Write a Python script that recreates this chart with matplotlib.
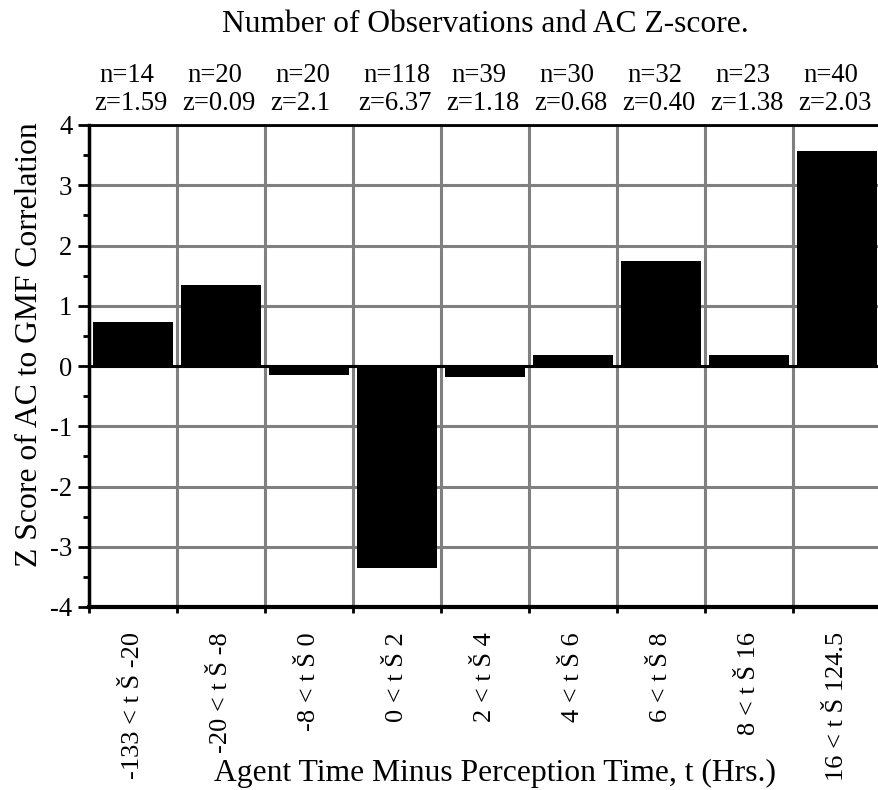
import matplotlib
matplotlib.use("Agg")
import matplotlib.pyplot as plt
import numpy as np

categories = ["-133 < t Š -20", "-20 < t Š -8", "-8 < t Š 0", "0 < t Š 2", "2 < t Š 4",
              "4 < t Š 6", "6 < t Š 8", "8 < t Š 16", "16 < t Š 124.5"]
z_scores = [0.73, 1.35, -0.15, -3.36, -0.18, 0.18, 1.74, 0.18, 3.57]
n_labels = ["n=14", "n=20", "n=20", "n=118", "n=39", "n=30", "n=32", "n=23", "n=40"]
z_labels = ["z=1.59", "z=0.09", "z=2.1", "z=6.37", "z=1.18", "z=0.68", "z=0.40", "z=1.38", "z=2.03"]
y_ticks = [-4, -3, -2, -1, 0, 1, 2, 3, 4]

plt.rcParams['font.family'] = ['Liberation Serif', 'DejaVu Serif']
plt.rcParams['axes.unicode_minus'] = False

W, H = 879, 790
fig = plt.figure(figsize=(W / 100, H / 100), dpi=100)
# axes spans 9 categories of ~88 px starting at x=89, y from 125 (4) to 607 (-4)
ax = fig.add_axes([89 / W, 1 - 607 / H, 792 / W, 482 / H])

x = np.arange(len(categories))
ax.bar(x, z_scores, width=0.9, color='black', zorder=3)
ax.set_xlim(-0.5, len(categories) - 0.5)
ax.set_ylim(-4, 4)

ax.set_xticks(np.arange(len(categories) + 1) - 0.5)
ax.set_xticklabels([])
ax.set_xticks(x, minor=True)
ax.set_xticklabels(categories, minor=True, rotation=90, fontsize=16, va='top')
ax.tick_params(axis='x', which='minor', length=0, pad=18)
ax.tick_params(axis='x', which='major', length=4, width=2, direction='out')
ax.set_yticks(y_ticks)
ax.set_yticks(np.arange(-4, 4.5, 0.5), minor=True)
ax.tick_params(axis='y', which='major', length=8, width=2, labelsize=17, pad=4)
ax.tick_params(axis='y', which='minor', length=4.5, width=2)
ax.grid(True, which='major', color='#808080', linewidth=2.2, zorder=1)
ax.axhline(0, color='black', linewidth=2.2, zorder=4)

ax.spines['left'].set_linewidth(2.5)
ax.spines['bottom'].set_linewidth(3)
ax.spines['top'].set_linewidth(2)
ax.spines['right'].set_visible(False)

trans = ax.get_xaxis_transform()
n_texts, z_texts = [], []
for i in range(len(categories)):
    left = i - 0.5
    n_texts.append(ax.text(left + 10 / 88, 1 + (125 - 82) / 482,
                           n_labels[i], transform=trans, ha='left', va='baseline', fontsize=17))
    z_texts.append(ax.text(left + 5 / 88, 1 + (125 - 110) / 482,
                           z_labels[i], transform=trans, ha='left', va='baseline', fontsize=17))

title = fig.text(485 / W, 1 - 32 / H, "Number of Observations and AC Z-score.",
                 ha='center', va='baseline', fontsize=20)
ylab = fig.text(30 / W, 1 - 345 / H, "Z Score of AC to GMF Correlation",
                ha='center', va='center', rotation=90, fontsize=20)
xlab = fig.text(495 / W, 1 - 781 / H, "Agent Time Minus Perception Time, t (Hrs.)",
                ha='center', va='baseline', fontsize=20)

# fit font sizes to the reference's measured text extents (pixels)
fig.canvas.draw()
r = fig.canvas.get_renderer()

def fit(t, target, dim='w'):
    bb = t.get_window_extent(r)
    cur = bb.width if dim == 'w' else bb.height
    return t.get_fontsize() * target / cur

title.set_fontsize(fit(title, 526))
xlab.set_fontsize(fit(xlab, 564))
ylab.set_fontsize(fit(ylab, 444, 'h'))
fs_lab = fit(z_texts[0], 73)
for t in n_texts + z_texts:
    t.set_fontsize(fs_lab)
ticks = ax.get_xticklabels(minor=True)
fs_tick = fit(ticks[0], 147, 'h')
ax.tick_params(axis='x', which='minor', labelsize=fs_tick)
ax.tick_params(axis='y', which='major', labelsize=fs_lab)

fig.savefig("out.png", dpi=100)
